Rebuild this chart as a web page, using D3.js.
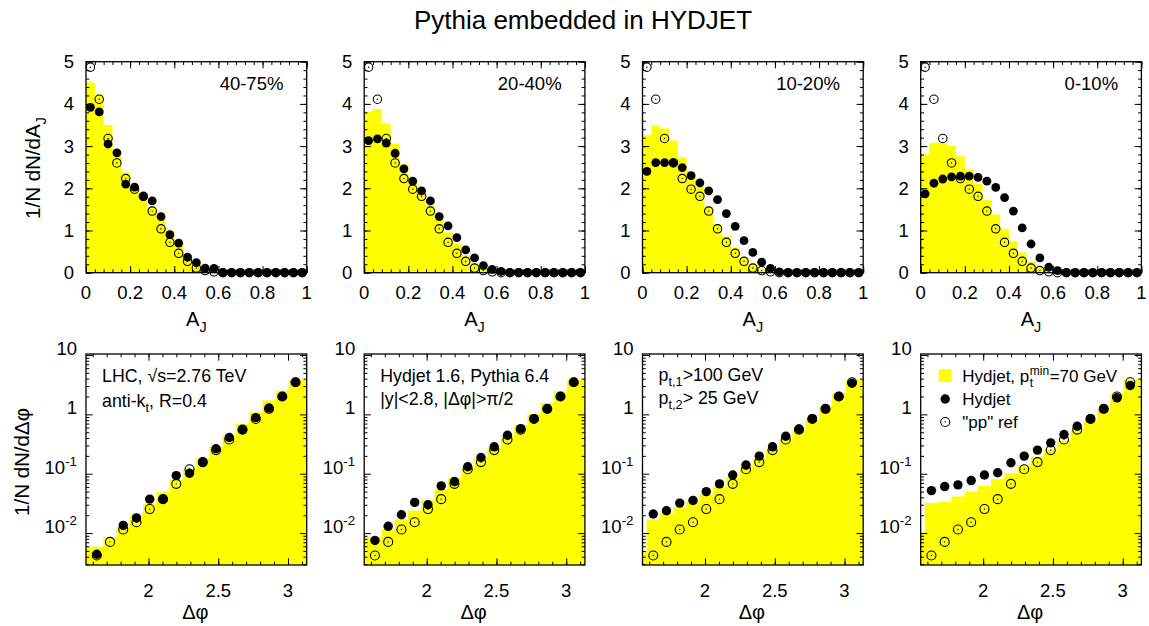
<!DOCTYPE html>
<html>
<head>
<meta charset="utf-8">
<script src="https://cdn.jsdelivr.net/npm/d3@7"></script>
<style>
  body { margin: 0; background: #fff; }
  svg text { font-family: "Liberation Sans", Arial, Helvetica, sans-serif; fill: #000; }
</style>
</head>
<body>
<div id="chart"></div>
<script>
// ---- data ----
const centralities = ["40-75%", "20-40%", "10-20%", "0-10%"];

// A_J histograms, bin width 0.04
const ajCenters = [0.02, 0.06, 0.10, 0.14, 0.18, 0.22, 0.26, 0.30, 0.34, 0.38, 0.42, 0.46, 0.50,
                   0.54, 0.58, 0.62, 0.66, 0.70, 0.74, 0.78, 0.82, 0.86, 0.90, 0.94, 0.98];
const ajBinWidth = 0.04;

const ajPPRef = [4.87, 4.11, 3.18, 2.60, 2.23, 1.98, 1.81, 1.46, 1.04, 0.72, 0.46, 0.27, 0.11,
                 0.05, 0.02, 0, 0, 0, 0, 0, 0, 0, 0, 0, 0];

const ajHydjet4075 = [3.92, 3.81, 3.05, 2.84, 2.10, 2.03, 1.81, 1.70, 1.33, 0.90, 0.70, 0.37, 0.24,
                      0.11, 0.10, 0, 0, 0, 0, 0, 0, 0, 0, 0, 0];
const ajHydjet2040 = [3.13, 3.17, 3.07, 2.83, 2.46, 2.17, 1.94, 1.70, 1.33, 1.11, 0.83, 0.54, 0.35,
                      0.17, 0.08, 0.03, 0, 0, 0, 0, 0, 0, 0, 0, 0];
const ajHydjet1020 = [2.40, 2.61, 2.61, 2.61, 2.49, 2.30, 2.13, 1.94, 1.73, 1.40, 1.10, 0.76, 0.48,
                      0.25, 0.10, 0.02, 0, 0, 0, 0, 0, 0, 0, 0, 0];
const ajHydjet0010 = [1.87, 2.12, 2.22, 2.27, 2.29, 2.29, 2.26, 2.17, 2.02, 1.78, 1.46, 1.06, 0.68,
                      0.35, 0.13, 0.05, 0, 0, 0, 0, 0, 0, 0, 0, 0];

const ajPtmin4075 = [4.51, 4.22, 3.50, 2.90, 2.38, 2.05, 1.80, 1.55, 1.25, 1.00, 0.72, 0.45, 0.25,
                     0.10, 0.03, 0.01, 0, 0, 0, 0, 0, 0, 0, 0, 0];
const ajPtmin2040 = [3.82, 3.88, 3.54, 3.06, 2.57, 2.20, 1.90, 1.60, 1.25, 0.95, 0.68, 0.42, 0.22,
                     0.10, 0.04, 0.01, 0, 0, 0, 0, 0, 0, 0, 0, 0];
const ajPtmin1020 = [3.26, 3.49, 3.42, 3.13, 2.73, 2.39, 2.03, 1.56, 1.16, 0.86, 0.59, 0.35, 0.20,
                     0.08, 0.02, 0, 0, 0, 0, 0, 0, 0, 0, 0, 0];
const ajPtmin0010 = [2.80, 3.08, 3.08, 3.00, 2.76, 2.44, 2.11, 1.73, 1.38, 1.04, 0.74, 0.48, 0.26,
                     0.11, 0.05, 0, 0, 0, 0, 0, 0, 0, 0, 0, 0];

// delta phi histograms: bin edges (first and last bins only partly inside the frame)
const dphiEdges = [1.4865, 1.5815, 1.6765, 1.7715, 1.8665, 1.9615, 2.0565, 2.1515, 2.2465, 2.3415,
                   2.4365, 2.5315, 2.6265, 2.7215, 2.8165, 2.9115, 3.0065, 3.1015, 3.1965];

const dphiPPRef = [0.0042, 0.0071, 0.0115, 0.0152, 0.0254, 0.0373, 0.0675, 0.119, 0.157, 0.250,
                   0.377, 0.554, 0.836, 1.24, 2.0, 3.47];

const dphiHydjet4075 = [0.0044, null, 0.0135, 0.0180, 0.0373, 0.0373, 0.093, 0.102, 0.155, 0.263,
                        0.407, 0.554, 0.88, 1.28, 2.0, 3.47];
const dphiHydjet2040 = [0.0075, 0.013, 0.0204, 0.0329, 0.030, 0.0624, 0.0738, 0.131, 0.188, 0.284,
                        0.445, 0.575, 0.846, 1.24, 2.0, 3.47];
const dphiHydjet1020 = [0.021, 0.0238, 0.032, 0.0355, 0.050, 0.0675, 0.0953, 0.14, 0.198, 0.284,
                        0.428, 0.568, 0.846, 1.24, 2.0, 3.34];
const dphiHydjet0010 = [0.052, 0.0608, 0.0649, 0.0767, 0.0953, 0.104, 0.153, 0.198, 0.25, 0.331,
                        0.457, 0.63, 0.846, 1.24, 1.9, 3.06];

const dphiPtmin4075 = [0.0059, 0.0059, 0.0086, 0.0127, 0.0204, 0.0312, 0.049, 0.0787, 0.123, 0.181,
                       0.284, 0.445, 0.698, 1.09, 1.71, 2.5, 3.8, 3.8];
const dphiPtmin2040 = [0.0086, 0.0086, 0.0117, 0.0169, 0.0241, 0.0355, 0.0535, 0.0839, 0.128, 0.188,
                       0.284, 0.428, 0.655, 1.0, 1.55, 2.45, 3.8, 3.8];
const dphiPtmin1020 = [0.005, 0.017, 0.022, 0.027, 0.034, 0.045, 0.060, 0.085, 0.125, 0.18,
                       0.25, 0.377, 0.55, 0.79, 1.35, 2.28, 3.8, 3.8];
const dphiPtmin0010 = [0.0103, 0.032, 0.034, 0.0414, 0.050, 0.0624, 0.0807, 0.1017, 0.14, 0.193,
                       0.25, 0.358, 0.54, 0.79, 1.24, 2.22, 3.8, 3.8];

const ajTicksMajor = [0, 0.2, 0.4, 0.6, 0.8, 1];
const ajYTicks = [0, 1, 2, 3, 4, 5];
const dphiTicksMajor = [2, 2.5, 3];
const dphiYTicks = [0.01, 0.1, 1, 10];
const dphiYLabels = [["10", "-2"], ["10", "-1"], ["1", ""], ["10", ""]];

// ---- layout ----
const W = 1149, H = 626;
const panelLefts = [86, 364.2, 642.5, 920.7];
const panelW = 220.7;
const topBox = [61.7, 272.7], botBox = [354, 565];
const YELLOW = "#ffff00";

const ajHydjet = [ajHydjet4075, ajHydjet2040, ajHydjet1020, ajHydjet0010];
const ajPtmin = [ajPtmin4075, ajPtmin2040, ajPtmin1020, ajPtmin0010];
const dphiHydjet = [dphiHydjet4075, dphiHydjet2040, dphiHydjet1020, dphiHydjet0010];
const dphiPtmin = [dphiPtmin4075, dphiPtmin2040, dphiPtmin1020, dphiPtmin0010];
const dphiCenters = d3.range(1, dphiEdges.length - 2).map(k => (dphiEdges[k] + dphiEdges[k + 1]) / 2);

const svg = d3.select("#chart").append("svg")
    .attr("width", W).attr("height", H);

// text with sub/superscripts: parts = [[string, kind]] kind in {"", "sub", "sup"}
function rich(g, x, y, parts, size, anchor) {
    const t = g.append("text").attr("x", x).attr("y", y)
        .attr("font-size", size).attr("text-anchor", anchor || "start");
    let shift = 0;
    parts.forEach(([s, kind]) => {
        const target = kind === "sub" ? size * 0.3 : kind === "sup" ? -size * 0.42 : 0;
        t.append("tspan").attr("dy", target - shift)
            .attr("font-size", kind ? size * 0.72 : size).text(s);
        shift = target;
    });
    return t;
}

function tickSet(g, axisFn, scale, values, size, tx, ty) {
    const ax = axisFn(scale).tickValues(values).tickSize(-size).tickFormat("");
    const a = g.append("g").attr("transform", `translate(${tx},${ty})`).call(ax);
    a.select(".domain").remove();
    a.selectAll("line").attr("stroke", "#000").attr("stroke-width", 1);
}

function markers(g, pts, x, y, r) {
    // "pp" reference: open circles with a centre dot, then Hydjet full circles on top
    g.selectAll(null).data(pts.filter(d => d.pp != null)).join("circle")
        .attr("cx", d => x(d.c)).attr("cy", d => y(d.pp)).attr("r", r - 0.2)
        .attr("fill", "none").attr("stroke", "#000").attr("stroke-width", 1.1);
    g.selectAll(null).data(pts.filter(d => d.pp != null)).join("circle")
        .attr("cx", d => x(d.c)).attr("cy", d => y(d.pp)).attr("r", 0.7).attr("fill", "#000");
    g.selectAll(null).data(pts.filter(d => d.hy != null)).join("circle")
        .attr("cx", d => x(d.c)).attr("cy", d => y(d.hy)).attr("r", r).attr("fill", "#000");
}

function frame(g, left, box) {
    g.append("rect").attr("x", left).attr("y", box[0])
        .attr("width", panelW).attr("height", box[1] - box[0])
        .attr("fill", "none").attr("stroke", "#000").attr("stroke-width", 1.3);
}

function clipFor(id, left, box) {
    svg.append("clipPath").attr("id", id).append("rect")
        .attr("x", left).attr("y", box[0]).attr("width", panelW).attr("height", box[1] - box[0]);
}

// ---- top row: A_J ----
function drawTop(i) {
    const left = panelLefts[i];
    const g = svg.append("g");
    const x = d3.scaleLinear().domain([0, 1]).range([left, left + panelW]);
    const y = d3.scaleLinear().domain([0, 5]).range([topBox[1], topBox[0]]);
    clipFor("clipT" + i, left, topBox);

    const steps = [];
    ajCenters.forEach((c, j) => {
        steps.push([c - ajBinWidth / 2, ajPtmin[i][j]], [c + ajBinWidth / 2, ajPtmin[i][j]]);
    });
    g.append("path").datum(steps)
        .attr("d", d3.area().x(d => x(d[0])).y0(y(0)).y1(d => y(d[1])))
        .attr("fill", YELLOW).attr("clip-path", `url(#clipT${i})`);

    const pts = ajCenters.map((c, j) => ({c: c, pp: ajPPRef[j], hy: ajHydjet[i][j]}));
    markers(g, pts, x, y, 4.4);

    frame(g, left, topBox);
    tickSet(g, d3.axisLeft, y, ajYTicks, 6.7, left, 0);
    tickSet(g, d3.axisLeft, y, d3.range(0, 5.001, 0.2), 3.3, left, 0);
    tickSet(g, d3.axisRight, y, ajYTicks, 6.7, left + panelW, 0);
    tickSet(g, d3.axisRight, y, d3.range(0, 5.001, 0.2), 3.3, left + panelW, 0);
    tickSet(g, d3.axisBottom, x, ajTicksMajor, 6.7, 0, topBox[1]);
    tickSet(g, d3.axisBottom, x, d3.range(0, 1.001, 0.04), 3.3, 0, topBox[1]);
    tickSet(g, d3.axisTop, x, ajTicksMajor, 6.7, 0, topBox[0]);
    tickSet(g, d3.axisTop, x, d3.range(0, 1.001, 0.04), 3.3, 0, topBox[0]);

    g.selectAll(null).data(ajYTicks).join("text")
        .attr("x", left - 12).attr("y", d => y(d)).attr("dy", "0.35em")
        .attr("text-anchor", "end").attr("font-size", 18.5).text(d => d);
    g.selectAll(null).data(ajTicksMajor).join("text")
        .attr("x", d => x(d)).attr("y", topBox[1] + 26)
        .attr("text-anchor", "middle").attr("font-size", 18.5).text(d => d);

    rich(g, left + panelW / 2, 326, [["A", ""], ["J", "sub"]], 20, "middle");
    g.append("text").attr("x", left + panelW - 23.3).attr("y", 89.5)
        .attr("text-anchor", "end").attr("font-size", 18.5).text(centralities[i]);
}

// ---- bottom row: delta phi ----
function drawBottom(i) {
    const left = panelLefts[i];
    const g = svg.append("g");
    const x = d3.scaleLinear().domain([1.552, 3.134]).range([left, left + panelW]);
    const y = d3.scaleLog().domain([0.0029, 10.4]).range([botBox[1], botBox[0]]);
    clipFor("clipB" + i, left, botBox);

    const steps = [];
    dphiPtmin[i].forEach((v, j) => {
        steps.push([dphiEdges[j], v], [dphiEdges[j + 1], v]);
    });
    g.append("path").datum(steps)
        .attr("d", d3.area().x(d => x(d[0])).y0(botBox[1]).y1(d => y(d[1])))
        .attr("fill", YELLOW).attr("clip-path", `url(#clipB${i})`);

    const pts = dphiCenters.map((c, j) => ({c: c, pp: dphiPPRef[j], hy: dphiHydjet[i][j]}));
    markers(g, pts, x, y, 4.7);

    const minorY = [];
    [0.001, 0.01, 0.1, 1].forEach(dec => d3.range(2, 10).forEach(k => {
        const v = k * dec;
        if (v > 0.0029 && v < 10.4) minorY.push(v);
    }));
    const minorX = d3.range(1.6, 3.101, 0.1);

    frame(g, left, botBox);
    tickSet(g, d3.axisLeft, y, dphiYTicks, 6.7, left, 0);
    tickSet(g, d3.axisLeft, y, minorY, 3.3, left, 0);
    tickSet(g, d3.axisRight, y, dphiYTicks, 6.7, left + panelW, 0);
    tickSet(g, d3.axisRight, y, minorY, 3.3, left + panelW, 0);
    tickSet(g, d3.axisBottom, x, dphiTicksMajor, 6.7, 0, botBox[1]);
    tickSet(g, d3.axisBottom, x, minorX, 3.3, 0, botBox[1]);
    tickSet(g, d3.axisTop, x, dphiTicksMajor, 6.7, 0, botBox[0]);
    tickSet(g, d3.axisTop, x, minorX, 3.3, 0, botBox[0]);

    dphiYTicks.forEach((v, k) => {
        const lab = dphiYLabels[k];
        const t = rich(g, left - 9, y(v), lab[1] ? [[lab[0], ""], [lab[1], "sup"]] : [[lab[0], ""]], 18.5, "end");
        t.attr("dy", "0.35em");
    });
    g.selectAll(null).data(dphiTicksMajor).join("text")
        .attr("x", d => x(d)).attr("y", botBox[1] + 32)
        .attr("text-anchor", "middle").attr("font-size", 18.5).text(d => d);

    g.append("text").attr("x", left + panelW / 2 - 1).attr("y", 619)
        .attr("text-anchor", "middle").attr("font-size", 20).text("Δφ");
}

d3.range(4).forEach(i => { drawTop(i); drawBottom(i); });

// title and y-axis titles
svg.append("text").attr("x", 583).attr("y", 29).attr("text-anchor", "middle")
    .attr("font-size", 26).text("Pythia embedded in HYDJET");

rich(svg, 40, 168, [["1/N dN/dA", ""], ["J", "sub"]], 20.5, "middle")
    .attr("transform", "rotate(-90,40,168)");
svg.append("text").attr("x", 29).attr("y", 462).attr("text-anchor", "middle")
    .attr("font-size", 20.5).attr("transform", "rotate(-90,29,462)").text("1/N dN/dΔφ");

// annotations in the bottom panels
const ann = svg.append("g");
rich(ann, panelLefts[0] + 16, 382, [["LHC, √s=2.76 TeV", ""]], 17.8);
rich(ann, panelLefts[0] + 16, 407, [["anti-k", ""], ["t", "sub"], [", R=0.4", ""]], 17.8);
rich(ann, panelLefts[1] + 16, 382, [["Hydjet 1.6, Pythia 6.4", ""]], 17.8);
rich(ann, panelLefts[1] + 16, 405, [["|y|<2.8, |Δφ|>π/2", ""]], 17.8);
rich(ann, panelLefts[2] + 16, 381, [["p", ""], ["t,1", "sub"], [">100 GeV", ""]], 17.8);
rich(ann, panelLefts[2] + 16, 404, [["p", ""], ["t,2", "sub"], ["> 25 GeV", ""]], 17.8);

// legend (last bottom panel)
const lg = svg.append("g");
const lx = panelLefts[3] + 24.5;
lg.append("rect").attr("x", lx - 6.5).attr("y", 369).attr("width", 13).attr("height", 13).attr("fill", YELLOW);
lg.append("circle").attr("cx", lx).attr("cy", 399).attr("r", 4.7).attr("fill", "#000");
lg.append("circle").attr("cx", lx).attr("cy", 422).attr("r", 4.5).attr("fill", "none")
    .attr("stroke", "#000").attr("stroke-width", 1.1);
lg.append("circle").attr("cx", lx).attr("cy", 422).attr("r", 0.7).attr("fill", "#000");

// "Hydjet, p_t^min=70 GeV" as one text element, sub- and superscript stacked
const tx = panelLefts[3] + 41.5, ty = 381.5;
const lt = lg.append("text").attr("x", tx).attr("y", ty).attr("font-size", 17);
const base = lt.append("tspan").text("Hydjet, p");
const w1 = base.node().getComputedTextLength();
const supSpan = lt.append("tspan").attr("x", tx + w1 + 0.5).attr("dy", -7).attr("font-size", 12).text("min");
const w2 = supSpan.node().getComputedTextLength();
lt.append("tspan").attr("x", tx + w1 + 0.5).attr("dy", 12).attr("font-size", 12).text("t");
lt.append("tspan").attr("x", tx + w1 + w2 + 1).attr("dy", -5).text("=70 GeV");
lg.append("text").attr("x", tx).attr("y", 405).attr("font-size", 17).text("Hydjet");
lg.append("text").attr("x", tx).attr("y", 427.5).attr("font-size", 17).text("\"pp\" ref");
</script>
</body>
</html>
